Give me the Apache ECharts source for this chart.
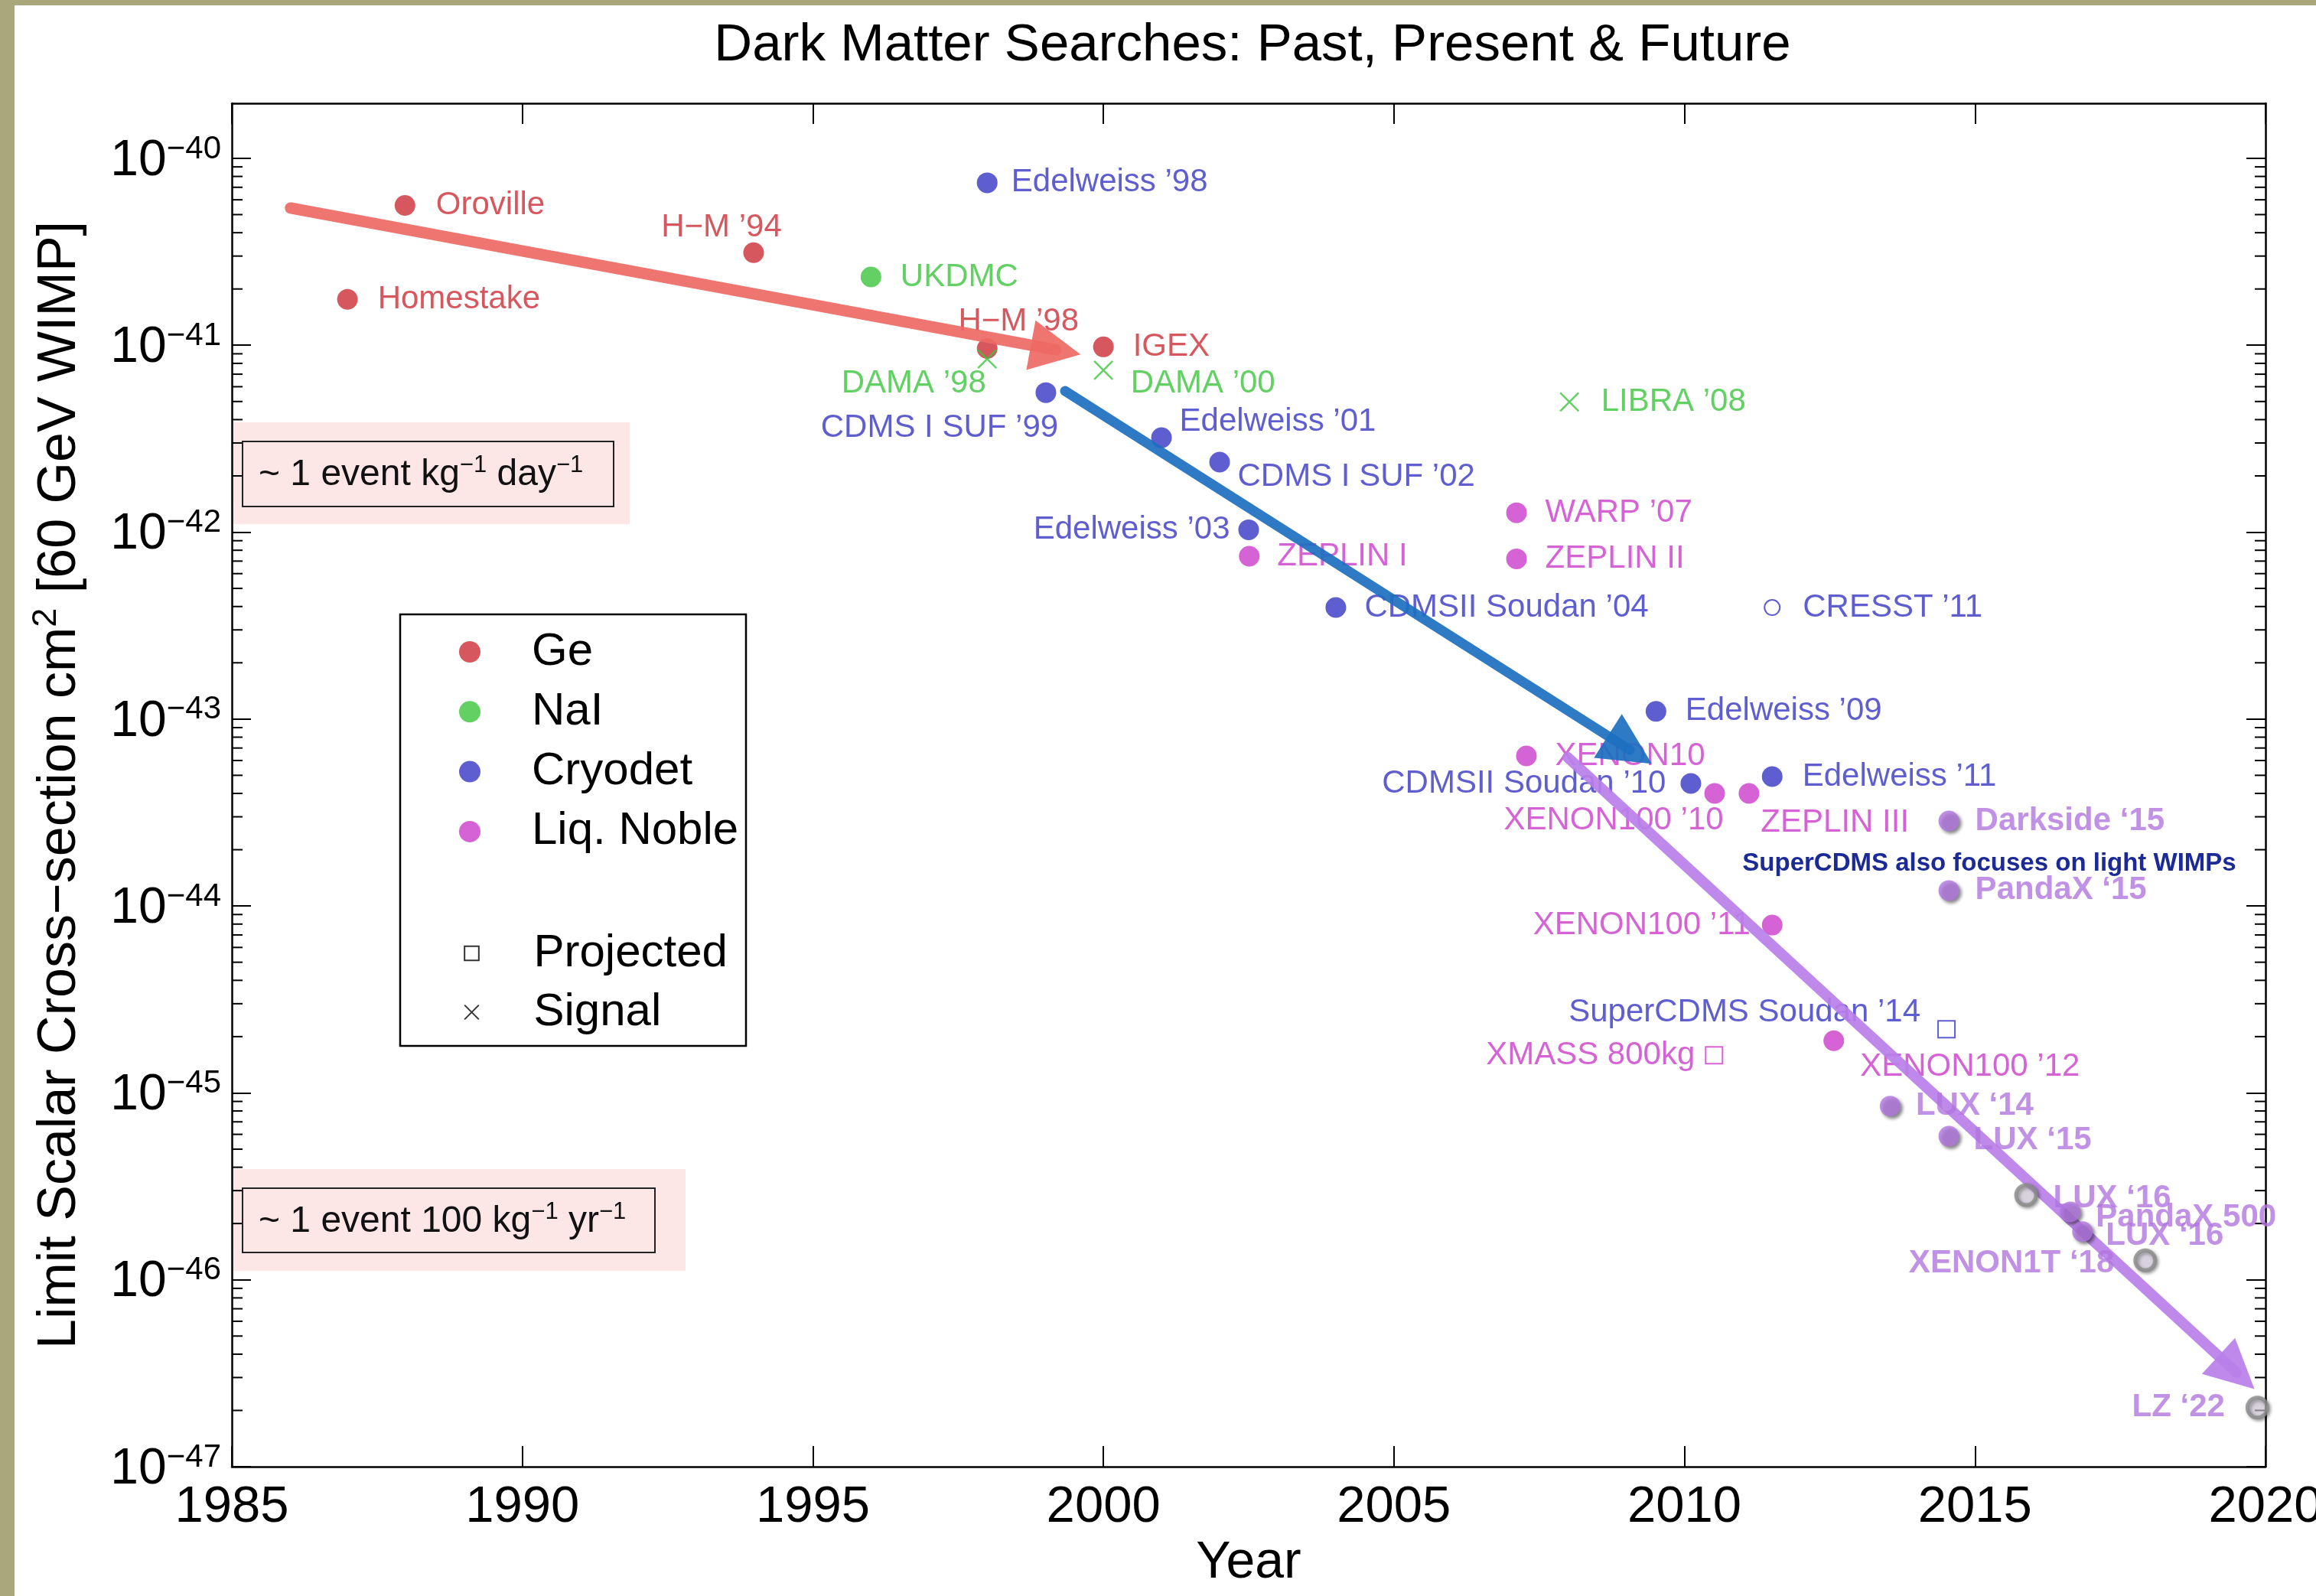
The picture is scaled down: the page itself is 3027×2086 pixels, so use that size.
<!DOCTYPE html>
<html>
<head>
<meta charset="utf-8">
<script src="https://cdn.jsdelivr.net/npm/echarts@6/dist/echarts.min.js"></script>
<style>
html,body{margin:0;padding:0;background:#ffffff;}
#chart{width:3027px;height:2086px;}
</style>
</head>
<body>
<div id="chart"></div>
<script>
// ------------------------------------------------------------------ data
const geNames  = ['Oroville', 'Homestake', 'H\u2212M \u201994', 'H\u2212M \u201998', 'IGEX'];
const geYears  = [1987.98, 1986.99, 1993.98, 1998.0, 2000.0];
const geLimits = [5.6e-41, 1.76e-41, 3.13e-41, 9.6e-42, 9.8e-42];

const naiNames  = ['UKDMC'];
const naiYears  = [1996.0];
const naiLimits = [2.32e-41];

const cryoNames  = ['Edelweiss \u201998', 'CDMS I SUF \u201999', 'Edelweiss \u201901', 'CDMS I SUF \u201902',
                    'Edelweiss \u201903', 'CDMSII Soudan \u201904', 'Edelweiss \u201909', 'CDMSII Soudan \u201910',
                    'Edelweiss \u201911', 'CRESST \u201911'];
const cryoYears  = [1998.0, 1999.01, 2001.0, 2002.0, 2002.5, 2004.0, 2009.51, 2010.11, 2011.51, 2011.51];
const cryoLimits = [7.4e-41, 5.58e-42, 3.2e-42, 2.37e-42, 1.03e-42, 3.95e-43, 1.1e-43, 4.52e-44, 4.92e-44, 3.95e-43];
const cryoHollow = [false, false, false, false, false, false, false, false, false, true];

const nobleNames  = ['WARP \u201907', 'ZEPLIN I', 'ZEPLIN II', 'XENON10', 'XENON100 \u201910', 'ZEPLIN III',
                     'XENON100 \u201911', 'XENON100 \u201912'];
const nobleYears  = [2007.11, 2002.51, 2007.11, 2007.28, 2010.52, 2011.11, 2011.51, 2012.57];
const nobleLimits = [1.27e-42, 7.43e-43, 7.2e-43, 6.35e-44, 4.0e-44, 4.0e-44, 7.9e-45, 1.9e-45];

const projNames  = ['SuperCDMS Soudan \u201914', 'XMASS 800kg'];
const projYears  = [2014.51, 2010.51];
const projLimits = [2.19e-45, 1.59e-45];
const projGroup  = ['Cryodet', 'Liq. Noble'];

const signalNames  = ['DAMA \u201998', 'DAMA \u201900', 'LIBRA \u201908'];
const signalYears  = [1998.0, 2000.0, 2008.02];
const signalLimits = [8.45e-42, 7.35e-42, 4.97e-42];

const recentNames  = ['Darkside \u201815', 'PandaX \u201815', 'LUX \u201814', 'LUX \u201815', 'LUX \u201816',
                      'PandaX 500', 'LUX \u201816', 'XENON1T \u201818', 'LZ \u201822'];
const recentYears  = [2014.55, 2014.55, 2013.54, 2014.55, 2015.88, 2016.64, 2016.85, 2017.93, 2019.86];
const recentLimits = [2.85e-44, 1.21e-44, 8.5e-46, 5.86e-46, 2.84e-46, 2.31e-46, 1.81e-46, 1.27e-46, 2.07e-47];
const recentHollow = [false, false, false, false, true, false, false, true, true];

// trend arrows: [year, limit] start and end
const arrowGe     = [[1986.01, 5.42e-41], [1999.18, 9.46e-42]];
const arrowCryo   = [[1999.34, 5.69e-42], [2009.06, 6.84e-44]];
const arrowNoble  = [[2007.99, 6.24e-44], [2019.50, 3.19e-47]];

// axes
const yearMin = 1985, yearMax = 2020, yearStep = 5;
const limitMin = 9.99999e-48, limitMax = 1.97e-40;
const minorDecades = [-47, -46, -45, -44, -43, -42, -41, -40];
const minorMultipliers = [2, 3, 4, 5, 6, 7, 8, 9];

const titleText = 'Dark Matter Searches: Past, Present & Future';
const legendMaterials = ['Ge', 'NaI', 'Cryodet', 'Liq. Noble'];
const legendKinds = ['Projected', 'Signal'];

// ------------------------------------------------------------------ label placement (style)
const gePlace     = [['right',22,0], ['right',21,0], ['top',-42,7], ['top',41,4], ['right',20,0]];
const naiPlace    = [['right',20,0]];
const cryoPlace   = [['right',13,0], ['bottom',-139,7], ['right',5,-21], ['right',5,19], ['left',-6,0],
                     ['right',19,0], ['right',20,0], ['left',-14,0], ['right',21,0], ['right',24,0]];
const noblePlace  = [['right',19,0], ['right',18,0], ['right',19,0], ['right',19,0], ['bottom',-132,-4],
                     ['right',-3,38], ['left',-10,0], ['right',16,34]];
const projPlace   = [['left',-17,-22], ['left',-8,0]];
const signalPlace = [['bottom',-96,-8], ['right',16,18], ['right',22,0]];
const recentPlace = [['right',16,0], ['right',16,0], ['right',15,0], ['right',14,5], ['right',15,4],
                     ['right',15,8], ['right',12,6], ['left',-20,4], ['left',-22,0]];

// ------------------------------------------------------------------ styles
const FONT = '"Liberation Sans", Arial, Helvetica, sans-serif';
const C_GE = '#cc2e36', C_NAI = '#3cc43c', C_CRYO = '#3636c4', C_NOBLE = '#cc3ccc', C_RECENT = '#b175de';
const C_ARROW_GE = '#ee6a64', C_ARROW_CRYO = '#1d6fbf', C_ARROW_NOBLE = '#b87fe8';
const LABEL_SIZE = 42;

function pts(names, years, limits, place, extra) {
  return names.map((n, i) => {
    const p = place[i];
    const item = {
      name: n,
      value: [years[i], limits[i]],
      label: { position: p[0], offset: [p[1], p[2]] }
    };
    if (extra) Object.assign(item, extra(i));
    return item;
  });
}

function scatter(name, color, data, opts) {
  return Object.assign({
    type: 'scatter',
    name: name,
    symbol: 'circle',
    symbolSize: 27,
    itemStyle: { color: color },
    label: { show: true, formatter: '{b}', color: color, fontSize: LABEL_SIZE, fontFamily: FONT, distance: 5 },
    emphasis: { disabled: true },
    data: data,
    z: 3
  }, opts || {});
}

const minorTickData = [];
minorDecades.forEach(e => minorMultipliers.forEach(m => {
  const v = m * Math.pow(10, e);
  if (v > limitMin && v < limitMax) minorTickData.push([yearMin, v]);
}));

function arrowSeries(name, coords, color, width, head) {
  return {
    type: 'lines',
    name: name,
    coordinateSystem: 'cartesian2d',
    polyline: false,
    symbol: ['none', 'triangle'],
    symbolSize: head,
    lineStyle: { color: color, width: width, opacity: 0.92, cap: 'round' },
    emphasis: { disabled: true },
    silent: true,
    data: [{ coords: coords }],
    z: 6
  };
}

function supLabel(v) {
  const e = Math.round(Math.log10(v));
  return '{b|10}{s|' + (e < 0 ? '\u2212' : '') + Math.abs(e) + '}';
}

const yLabelRich = {
  b: { fontSize: 66, fontFamily: FONT, color: '#000', lineHeight: 66, padding: [21, 0, 14, 0] },
  s: { fontSize: 42, fontFamily: FONT, color: '#000', lineHeight: 42, verticalAlign: 'top' }
};

const axisLineStyle = { color: '#000', width: 2.5 };

const option = {
  animation: false,
  backgroundColor: '#ffffff',
  textStyle: { fontFamily: FONT },
  title: {
    text: titleText,
    left: 1632,
    textAlign: 'center',
    top: 20,
    textStyle: { fontSize: 69, fontWeight: 'normal', color: '#000', fontFamily: FONT }
  },
  grid: { left: 303, right: 66, top: 135, bottom: 169, containLabel: false, outerBoundsMode: 'none' },
  legend: [
    {
      orient: 'vertical', left: 600, top: 822, padding: 0,
      itemWidth: 152, itemHeight: 28, itemGap: 18.3,
      selectedMode: false,
      textStyle: { fontSize: 60, lineHeight: 60, color: '#000', fontFamily: FONT },
      data: legendMaterials.map(n => ({ name: n, icon: 'circle' }))
    },
    {
      orient: 'vertical', left: 600, top: 1216, padding: 0,
      itemWidth: 152, itemHeight: 28, itemGap: 17,
      selectedMode: false,
      textStyle: { fontSize: 60, lineHeight: 60, color: '#000', fontFamily: FONT },
      data: [
        { name: legendKinds[0], icon: 'path://M-2.5,-2.5M0,0H10V10H0ZM12.5,12.5',
          itemStyle: { color: 'none', borderColor: '#000', borderWidth: 2 } },
        { name: legendKinds[1], icon: 'path://M-2.5,-2.5M0,0L10,10M10,0L0,10M12.5,12.5',
          itemStyle: { color: 'none', borderColor: '#000', borderWidth: 2 } }
      ]
    }
  ],
  xAxis: [
    {
      type: 'value', position: 'bottom', min: yearMin, max: yearMax, interval: yearStep,
      axisLine: { show: true, lineStyle: axisLineStyle },
      axisTick: { show: true, inside: true, length: 27, lineStyle: { color: '#000', width: 2 } },
      axisLabel: { fontSize: 67, color: '#000', margin: 20, fontFamily: FONT, formatter: v => String(v),
                   showMinLabel: true, showMaxLabel: true, hideOverlap: false },
      splitLine: { show: false },
      name: 'Year', nameLocation: 'middle', nameGap: 85,
      nameTextStyle: { fontSize: 68, color: '#000', fontFamily: FONT }
    },
    {
      type: 'value', position: 'top', min: yearMin, max: yearMax, interval: yearStep,
      axisLine: { show: true, onZero: false, lineStyle: axisLineStyle },
      axisTick: { show: true, inside: true, length: 27, lineStyle: { color: '#000', width: 2 } },
      axisLabel: { show: false },
      splitLine: { show: false }
    }
  ],
  yAxis: [
    {
      type: 'log', logBase: 10, position: 'left', min: limitMin, max: limitMax,
      axisLine: { show: true, lineStyle: axisLineStyle },
      axisTick: { show: true, inside: true, length: 25, lineStyle: { color: '#000', width: 2 } },
      axisLabel: { formatter: supLabel, rich: yLabelRich, margin: 14, showMinLabel: true, showMaxLabel: false,
                   hideOverlap: false, align: 'right' },
      splitLine: { show: false },
      name: '{a|Limit Scalar Cross\u2212section cm}{s|2}{a| [60 GeV WIMP]}',
      nameLocation: 'middle', nameGap: 183, nameRotate: 90, nameMoveOverlap: false,
      nameTextStyle: {
        rich: {
          a: { fontSize: 70, fontFamily: FONT, color: '#000', lineHeight: 82 },
          s: { fontSize: 45, fontFamily: FONT, color: '#000', lineHeight: 22, verticalAlign: 'top' }
        }
      }
    },
    {
      type: 'log', logBase: 10, position: 'right', min: limitMin, max: limitMax,
      axisLine: { show: true, onZero: false, lineStyle: axisLineStyle },
      axisTick: { show: true, inside: true, length: 25, lineStyle: { color: '#000', width: 2 } },
      axisLabel: { show: false },
      splitLine: { show: false }
    }
  ],
  graphic: [
    { type: 'rect', left: 0, top: 0, shape: { width: 19, height: 2086 }, style: { fill: '#a9a77b' }, z: 100 },
    { type: 'rect', left: 0, top: 0, shape: { width: 3027, height: 7 }, style: { fill: '#a9a77b' }, z: 100 },
    // rate bands
    { type: 'rect', x: 305, y: 552, shape: { width: 518, height: 133 }, style: { fill: '#fde6e6' }, z: -1 },
    { type: 'rect', x: 317, y: 577, shape: { width: 485, height: 85 }, style: { fill: 'none', stroke: '#222', lineWidth: 2 }, z: 10 },
    { type: 'text', x: 338, y: 621, z: 11,
      style: { text: '{a|~ 1 event kg}{s|\u22121}{a| day}{s|\u22121}', verticalAlign: 'middle', align: 'left',
        rich: { a: { fontSize: 48, fontFamily: FONT, fill: '#111', lineHeight: 56 },
                s: { fontSize: 31, fontFamily: FONT, fill: '#111', lineHeight: 24, verticalAlign: 'top' } } } },
    { type: 'rect', x: 305, y: 1528, shape: { width: 591, height: 133 }, style: { fill: '#fde6e6' }, z: -1 },
    { type: 'rect', x: 317, y: 1553, shape: { width: 539, height: 84 }, style: { fill: 'none', stroke: '#222', lineWidth: 2 }, z: 10 },
    { type: 'text', x: 338, y: 1597, z: 11,
      style: { text: '{a|~ 1 event 100 kg}{s|\u22121}{a| yr}{s|\u22121}', verticalAlign: 'middle', align: 'left',
        rich: { a: { fontSize: 48, fontFamily: FONT, fill: '#111', lineHeight: 56 },
                s: { fontSize: 31, fontFamily: FONT, fill: '#111', lineHeight: 24, verticalAlign: 'top' } } } },
    // legend frame
    { type: 'rect', x: 523, y: 803, shape: { width: 452, height: 564 }, style: { fill: 'none', stroke: '#000', lineWidth: 2.5 }, z: 10 },
    // note
    { type: 'text', x: 2600, y: 1129, z: 11,
      style: { text: 'SuperCDMS also focuses on light WIMPs', align: 'center', verticalAlign: 'middle',
        fontSize: 33, fontWeight: 'bold', fontFamily: FONT, fill: '#1c2a98' } }
  ],
  series: [
    {
      type: 'custom', name: 'minor ticks', coordinateSystem: 'cartesian2d', silent: true, z: 1,
      data: minorTickData,
      encode: { x: 0, y: 1 },
      renderItem: function (params, api) {
        const v = api.value(1);
        const l = api.coord([yearMin, v]);
        const r = api.coord([yearMax, v]);
        return {
          type: 'group',
          children: [
            { type: 'line', shape: { x1: l[0], y1: l[1], x2: l[0] + 14, y2: l[1] }, style: { stroke: '#000', lineWidth: 2 } },
            { type: 'line', shape: { x1: r[0] - 14, y1: r[1], x2: r[0], y2: r[1] }, style: { stroke: '#000', lineWidth: 2 } }
          ]
        };
      }
    },
    scatter('Ge', C_GE, pts(geNames, geYears, geLimits, gePlace)),
    scatter('NaI', C_NAI, pts(naiNames, naiYears, naiLimits, naiPlace)),
    scatter('Cryodet', C_CRYO, pts(cryoNames, cryoYears, cryoLimits, cryoPlace, i => cryoHollow[i] ? {
      symbol: 'circle', symbolSize: 20,
      itemStyle: { color: '#ffffff', borderColor: C_CRYO, borderWidth: 2 }
    } : {})),
    scatter('Liq. Noble', C_NOBLE, pts(nobleNames, nobleYears, nobleLimits, noblePlace)),
    scatter('Projected', '#000', pts(projNames, projYears, projLimits, projPlace, i => {
      const c = projGroup[i] === 'Cryodet' ? C_CRYO : C_NOBLE;
      return { itemStyle: { color: '#ffffff', borderColor: c, borderWidth: 2 },
               label: { color: c, position: projPlace[i][0], offset: [projPlace[i][1], projPlace[i][2]] } };
    }), { symbol: 'rect', symbolSize: 22 }),
    scatter('Signal', C_NAI, pts(signalNames, signalYears, signalLimits, signalPlace), {
      symbol: 'path://M0,0L10,10M10,0L0,10', symbolSize: 24,
      itemStyle: { color: 'none', borderColor: C_NAI, borderWidth: 2.5 }
    }),
    arrowSeries('Ge trend', arrowGe, C_ARROW_GE, 15, 66),
    arrowSeries('Cryodet trend', arrowCryo, C_ARROW_CRYO, 13, 68),
    arrowSeries('Liq. Noble trend', arrowNoble, C_ARROW_NOBLE, 14, 64),
    scatter('Liq. Noble (recent)', C_RECENT, pts(recentNames, recentYears, recentLimits, recentPlace, i => recentHollow[i] ? {
      symbolSize: 26,
      itemStyle: { color: 'rgba(236,226,246,0.7)', borderColor: '#8c8c8c', borderWidth: 5,
        shadowBlur: 4, shadowColor: 'rgba(0,0,0,0.45)', shadowOffsetX: 2, shadowOffsetY: 2 }
    } : {}), {
      symbolSize: 27,
      itemStyle: { color: C_RECENT, shadowBlur: 4, shadowColor: 'rgba(0,0,0,0.6)', shadowOffsetX: 3, shadowOffsetY: 3 },
      label: { show: true, formatter: '{b}', color: C_RECENT, fontSize: LABEL_SIZE, fontWeight: 'bold', fontFamily: FONT, distance: 5 },
      z: 7
    })
  ]
};

const chart = echarts.init(document.getElementById('chart'), null, { renderer: 'canvas', width: 3027, height: 2086 });
chart.setOption(option);
</script>
</body>
</html>
